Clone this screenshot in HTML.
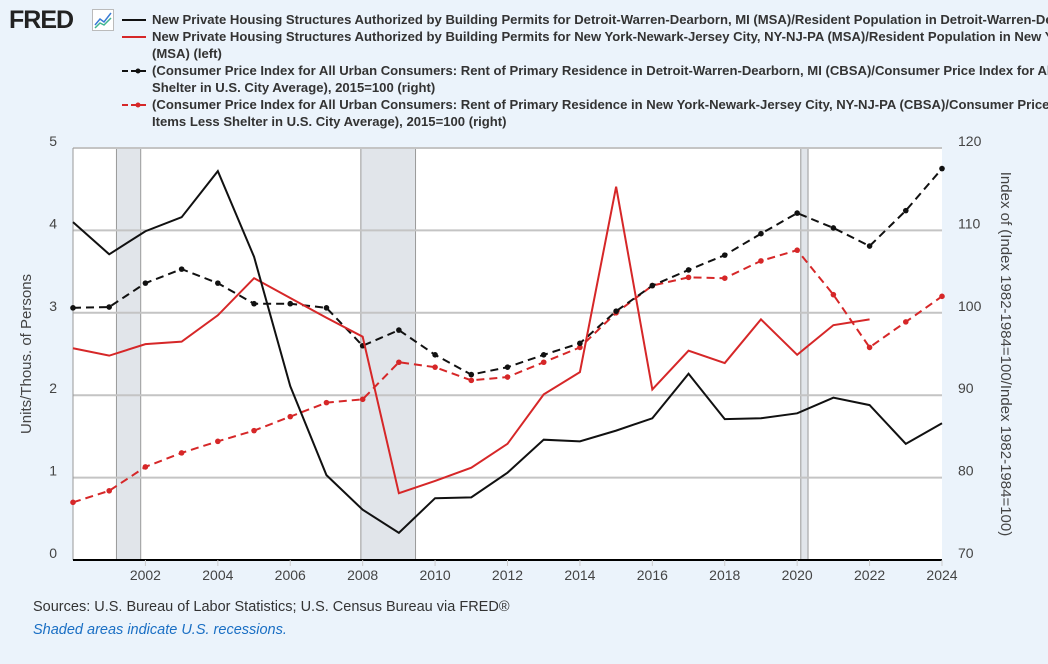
<!DOCTYPE html>
<html><head><meta charset="utf-8">
<style>
body{margin:0;background:#ebf3fb;font-family:"Liberation Sans",sans-serif;}
#wrap{position:relative;width:1048px;height:664px;overflow:hidden;background:#ebf3fb;}
.lg{position:absolute;left:152px;font-size:13.1px;font-weight:bold;color:#333;white-space:nowrap;line-height:17px;}
</style></head><body>
<div id="wrap">
<div style="position:absolute;left:9px;top:6px;font-size:25px;font-weight:900;color:#222;letter-spacing:-1px;">FRED</div>
<svg style="position:absolute;left:92px;top:9px" width="22" height="22"><rect x="0.5" y="0.5" width="21" height="21" fill="#fff" stroke="#bbb"/><polyline points="3,16 8,10 12,13 19,4" fill="none" stroke="#3a7bd5" stroke-width="1.5"/><polyline points="3,19 8,14 12,16 19,9" fill="none" stroke="#3fb58f" stroke-width="1.5"/></svg>
<div class="lg" style="top:11px">New Private Housing Structures Authorized by Building Permits for Detroit-Warren-Dearborn, MI (MSA)/Resident Population in Detroit-Warren-Dearborn, MI (MSA) (left)</div>
<div class="lg" style="top:28px">New Private Housing Structures Authorized by Building Permits for New York-Newark-Jersey City, NY-NJ-PA (MSA)/Resident Population in New York-Newark-Jersey City, NY-NJ-PA<br>(MSA) (left)</div>
<div class="lg" style="top:62px">(Consumer Price Index for All Urban Consumers: Rent of Primary Residence in Detroit-Warren-Dearborn, MI (CBSA)/Consumer Price Index for All Urban Consumers: All Items Less<br>Shelter in U.S. City Average), 2015=100 (right)</div>
<div class="lg" style="top:96px">(Consumer Price Index for All Urban Consumers: Rent of Primary Residence in New York-Newark-Jersey City, NY-NJ-PA (CBSA)/Consumer Price Index for All Urban Consumers: All<br>Items Less Shelter in U.S. City Average), 2015=100 (right)</div>
<svg id="leg" style="position:absolute;left:0;top:0" width="160" height="130">
<line x1="122" y1="20" x2="146" y2="20" stroke="#111" stroke-width="2"/>
<line x1="122" y1="37" x2="146" y2="37" stroke="#d62728" stroke-width="2"/>
<line x1="122" y1="71" x2="146" y2="71" stroke="#111" stroke-width="2" stroke-dasharray="6,3"/><circle cx="138" cy="71" r="2.5" fill="#111"/>
<line x1="122" y1="105" x2="146" y2="105" stroke="#d62728" stroke-width="2" stroke-dasharray="6,3"/><circle cx="138" cy="105" r="2.5" fill="#d62728"/>
</svg>
<svg id="chart" style="position:absolute;left:0;top:0" width="1048" height="664"></svg>
<div style="position:absolute;left:33px;top:599px;font-size:14.5px;color:#333">Sources: U.S. Bureau of Labor Statistics; U.S. Census Bureau via FRED®</div>
<div style="position:absolute;left:33px;top:622px;font-size:14.5px;color:#1a6fc4;font-style:italic">Shaded areas indicate U.S. recessions.</div>
</div>
<script>
const years=[2000,2001,2002,2003,2004,2005,2006,2007,2008,2009,2010,2011,2012,2013,2014,2015,2016,2017,2018,2019,2020,2021,2022,2023,2024];
const detroitPermits=[4.1,3.71,3.99,4.16,4.72,3.68,2.11,1.03,0.61,0.33,0.75,0.76,1.06,1.46,1.44,1.57,1.72,2.26,1.71,1.72,1.78,1.97,1.88,1.41,1.66];
const nyPermits=[2.57,2.48,2.62,2.65,2.97,3.42,3.18,2.94,2.71,0.81,0.96,1.12,1.41,2.01,2.28,4.53,2.07,2.54,2.39,2.92,2.49,2.85,2.92];
const detroitCpi=[100.6,100.7,103.6,105.3,103.6,101.1,101.1,100.6,96.0,97.9,94.9,92.5,93.4,94.9,96.3,100.2,103.3,105.2,107.0,109.6,112.1,110.3,108.1,112.4,117.5];
const nyCpi=[77.0,78.4,81.3,83.0,84.4,85.7,87.4,89.1,89.5,94.0,93.4,91.8,92.2,94.0,95.8,100.0,103.3,104.3,104.2,106.3,107.6,102.2,95.8,98.9,102.0];
const recessions=[[2001.2,2001.87],[2007.95,2009.46],[2020.1,2020.3]];
const leftTicks=[0,1,2,3,4,5];
const rightTicks=[70,80,90,100,110,120];
const xTicks=[2002,2004,2006,2008,2010,2012,2014,2016,2018,2020,2022,2024];

const L=73,R=942,T=148,B=560;
const xs=y=>L+(y-2000)/24*(R-L);
const yl=v=>B-v/5*(B-T);
const yr=v=>B-(v-70)/50*(B-T);
const svg=document.getElementById('chart');
const NS='http://www.w3.org/2000/svg';
function mk(t,a){const e=document.createElementNS(NS,t);for(const k in a)e.setAttribute(k,a[k]);svg.appendChild(e);return e;}
let bg=mk('rect',{x:L,y:T,width:R-L,height:B-T,fill:'#fff'});


recessions.forEach(r=>{
  const e=mk('rect',{x:xs(r[0]),y:T,width:xs(r[1])-xs(r[0]),height:B-T,fill:'#e1e5ea',stroke:'#999','stroke-width':1});
  
  
});
leftTicks.forEach((v,i)=>{
  if(v>0){const g=mk('line',{x1:L,x2:R,y1:yl(v),y2:yl(v),stroke:'#c4c4c4','stroke-width':2});
  
  }
  const t=mk('text',{x:57,y:yl(v)-2,'text-anchor':'end','font-size':14,fill:'#444'});t.textContent=v;
  
  
});
rightTicks.forEach(v=>{
  const t=mk('text',{x:958,y:yr(v)-2,'font-size':14,fill:'#444'});t.textContent=v;
  
  
});
mk('line',{x1:L,x2:L,y1:T,y2:B,stroke:'#999','stroke-width':1});
let ax=mk('line',{x1:L,x2:R,y1:B,y2:B,stroke:'#000','stroke-width':2});


xTicks.forEach(y=>{
  mk('line',{x1:xs(y),x2:xs(y),y1:B,y2:B+6,stroke:'#ccc'});
  const t=mk('text',{x:xs(y),y:580,'text-anchor':'middle','font-size':14,fill:'#444'});t.textContent=y;
  
  
});
let yt=mk('text',{transform:'translate(31,354) rotate(-90)','text-anchor':'middle','font-size':15,fill:'#444'});
yt.textContent='Units/Thous. of Persons';


let yt2=mk('text',{transform:'translate(1001,354) rotate(90)','text-anchor':'middle','font-size':15,fill:'#444'});
yt2.textContent='Index of (Index 1982-1984=100/Index 1982-1984=100)';


function series(vals,yf,color,dash,name){
  const pts=vals.map((v,i)=>xs(years[i])+','+yf(v)).join(' ');
  const a={points:pts,fill:'none',stroke:color,'stroke-width':2};
  if(dash)a['stroke-dasharray']='8,5';
  const p=mk('polyline',a);
  
  
  if(dash)vals.forEach((v,i)=>{
    const c=mk('circle',{cx:xs(years[i]),cy:yf(v),r:2.8,fill:color});
    
    
  });
}
series(nyCpi,yr,'#d62728',true,'ny-cpi-line');
series(detroitCpi,yr,'#111',true,'detroit-cpi-line');
series(nyPermits,yl,'#d62728',false,'ny-permits-line');
series(detroitPermits,yl,'#111',false,'detroit-permits-line');
</script>
</body></html>
